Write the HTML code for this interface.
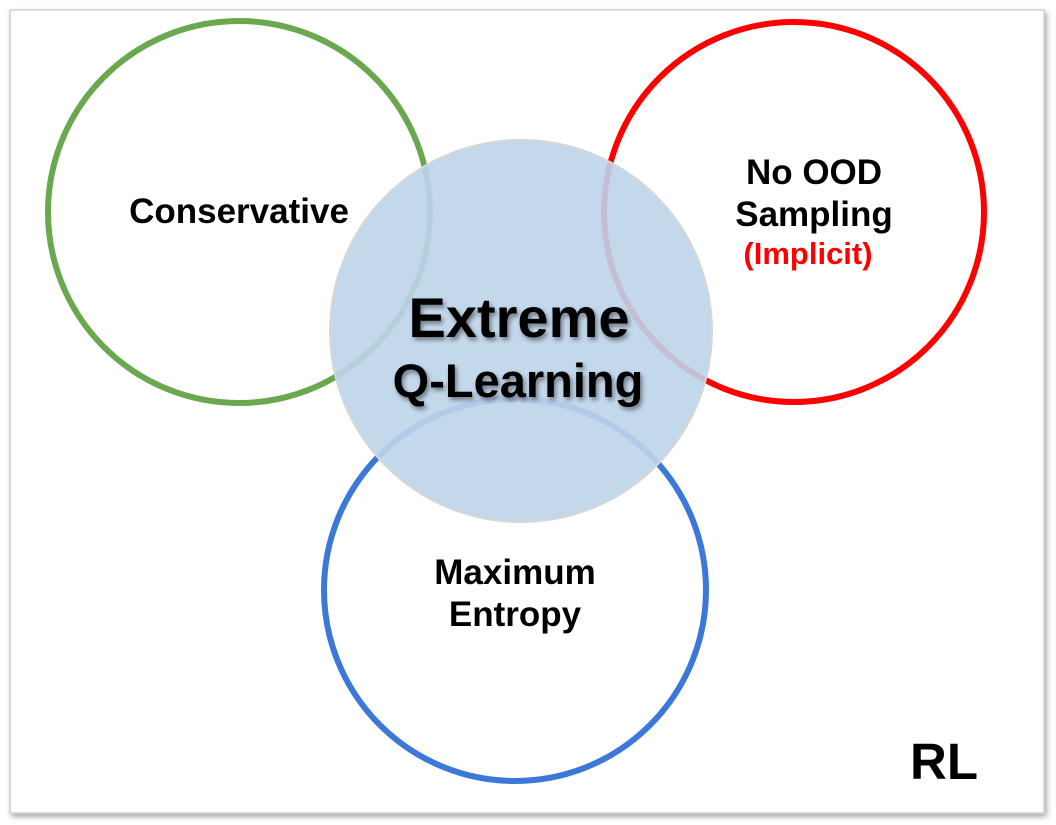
<!DOCTYPE html>
<html><head><meta charset="utf-8"><style>
html,body{margin:0;padding:0;background:#fff;}
svg{display:block;}
text{font-family:"Liberation Sans",Arial,sans-serif;font-weight:bold;text-anchor:middle;}
</style></head><body>
<svg width="1056" height="825" viewBox="0 0 1056 825" xmlns="http://www.w3.org/2000/svg">
<defs>
<filter id="sh" x="-5%" y="-5%" width="110%" height="110%"><feDropShadow dx="2" dy="3" stdDeviation="3" flood-color="#000" flood-opacity="0.35"/></filter>
<filter id="ts" x="-10%" y="-20%" width="120%" height="150%"><feDropShadow dx="2" dy="3" stdDeviation="2.5" flood-color="#000" flood-opacity="0.45"/></filter>
</defs>
<rect x="10" y="10" width="1034" height="803" fill="#fff" stroke="#c8cfe0" stroke-width="1.5" filter="url(#sh)"/>
<circle cx="239" cy="212" r="191" fill="none" stroke="#6aa84f" stroke-width="6"/>
<circle cx="794" cy="212" r="190" fill="none" stroke="#ff0000" stroke-width="6"/>
<circle cx="515" cy="590" r="191" fill="none" stroke="#3c78d8" stroke-width="6"/>
<circle cx="521" cy="331" r="191" fill="#bed4ea" fill-opacity="0.9" stroke="#d6d6d6" stroke-width="2"/>
<text x="239" y="223" font-size="35">Conservative</text>
<text x="814" y="184" font-size="35">No OOD</text>
<text x="814" y="226" font-size="35">Sampling</text>
<text x="808" y="264" font-size="31" fill="#ff0000">(Implicit)</text>
<text x="519" y="337" font-size="56" filter="url(#ts)">Extreme</text>
<text x="518" y="397" font-size="47" filter="url(#ts)">Q-Learning</text>
<text x="515" y="584" font-size="35">Maximum</text>
<text x="515" y="626" font-size="35">Entropy</text>
<text x="944" y="779" font-size="51">RL</text>
</svg>
</body></html>
